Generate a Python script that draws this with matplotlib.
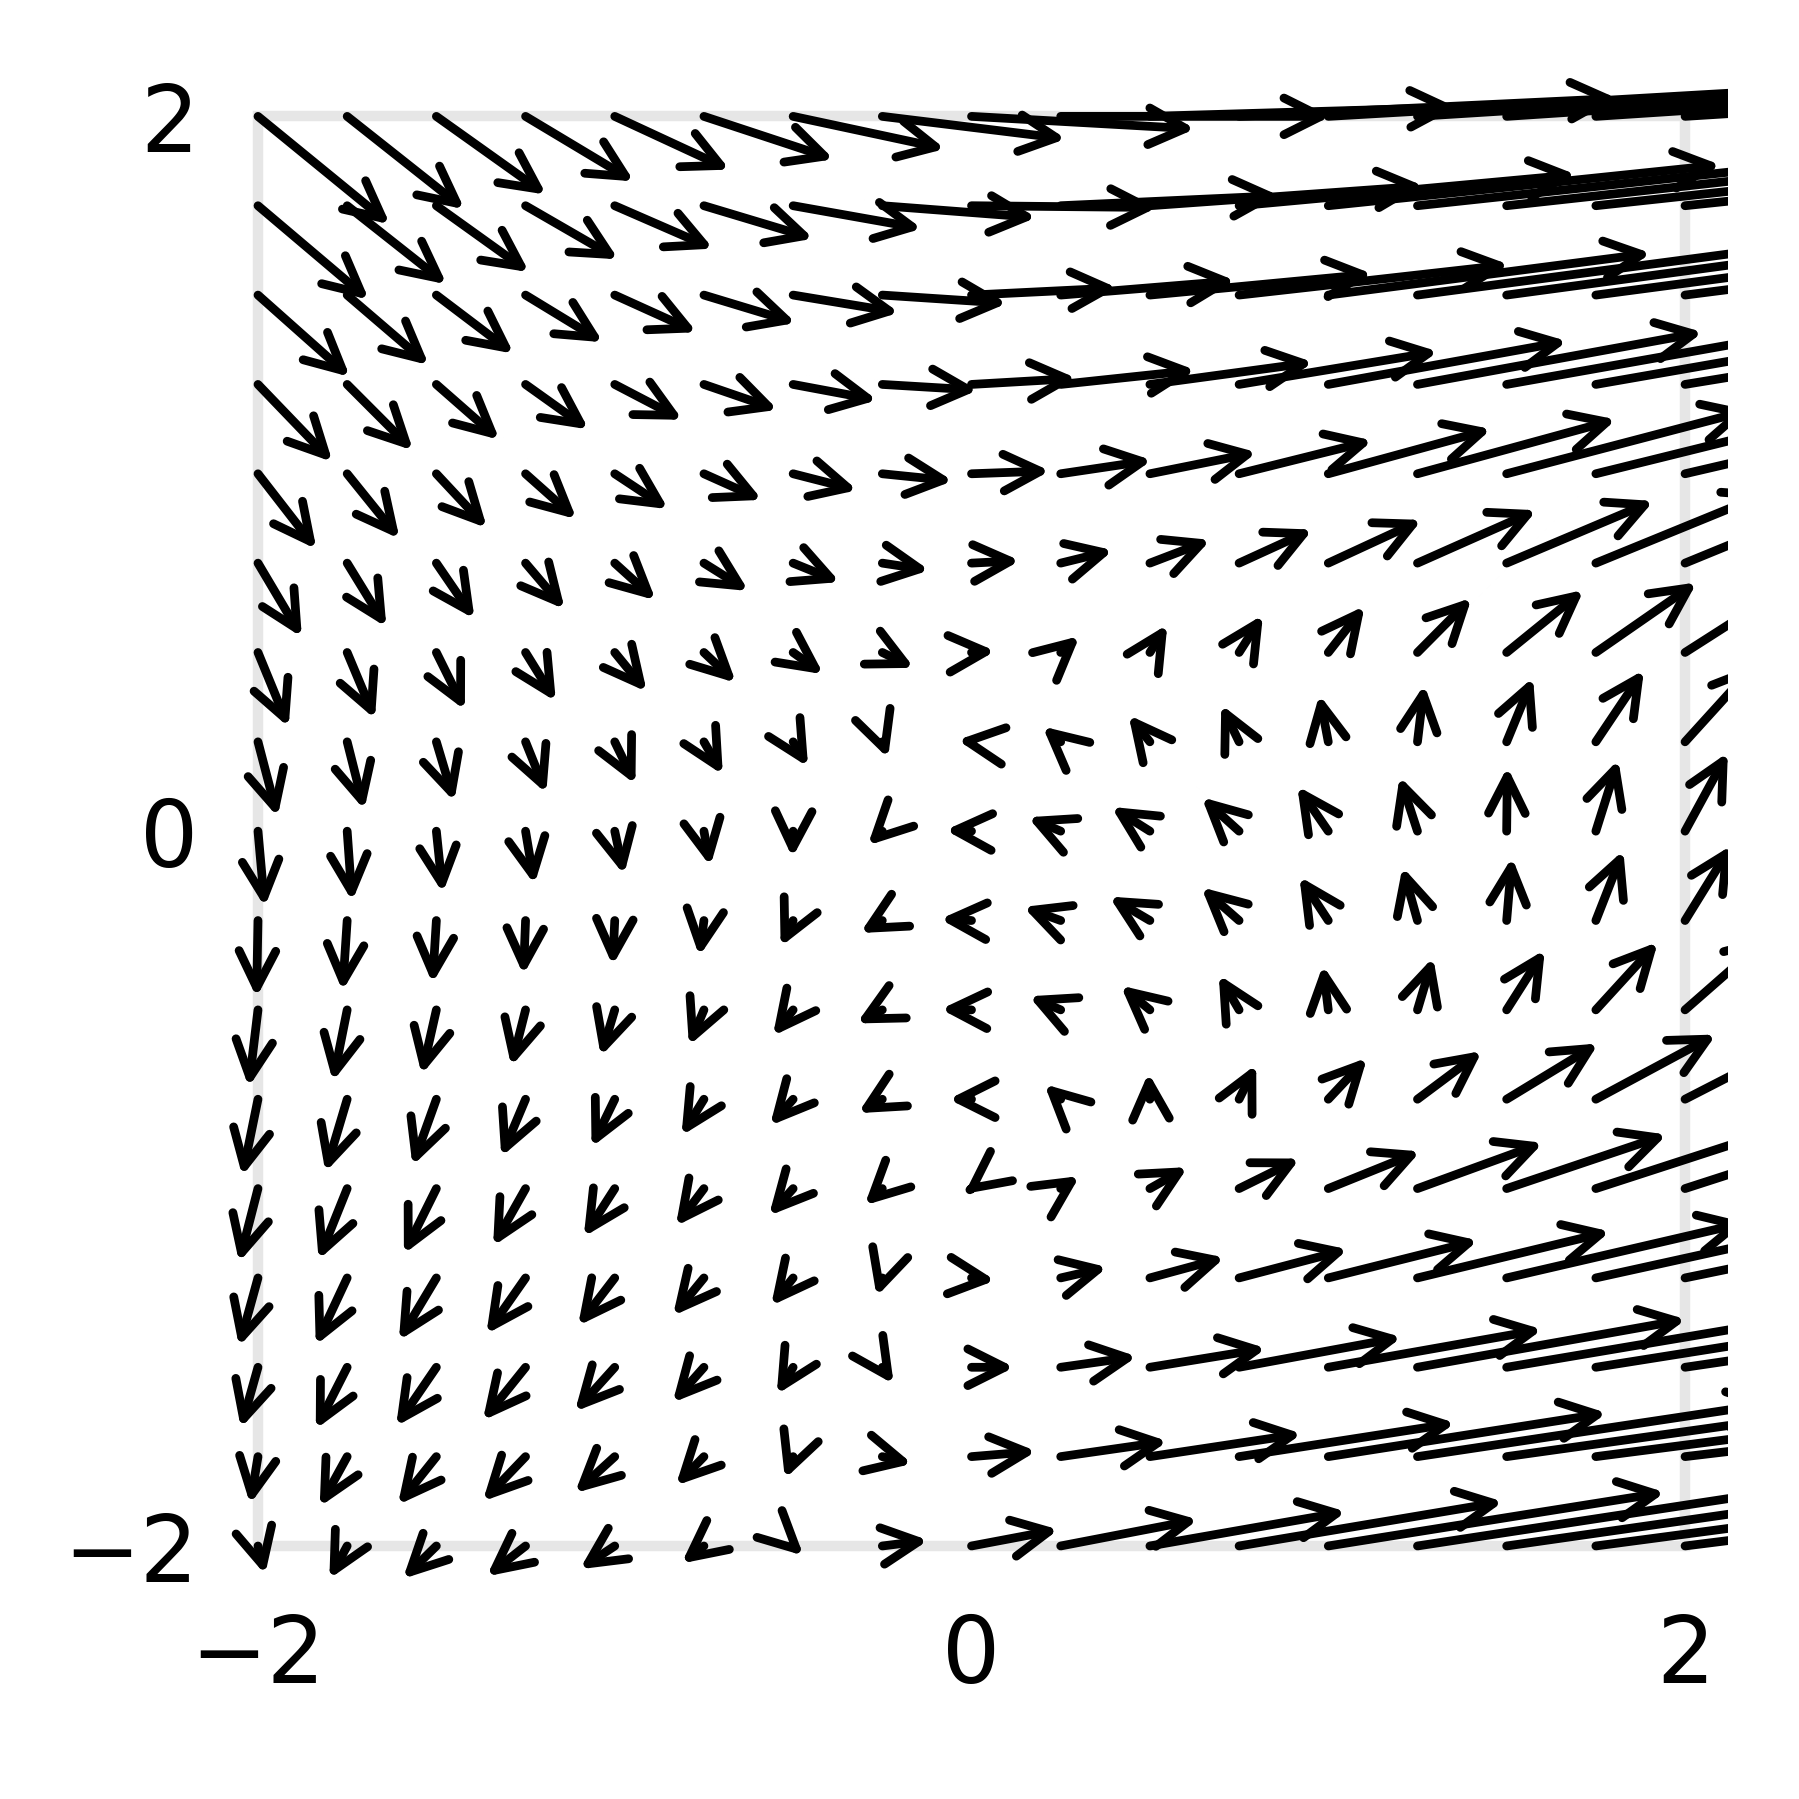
import matplotlib
matplotlib.use("Agg")
import matplotlib.pyplot as plt
from matplotlib.patches import FancyArrowPatch, Rectangle

# grid positions (columns left to right, rows top to bottom)
x_vals = [-2.0, -1.75, -1.5, -1.25, -1.0, -0.75, -0.5, -0.25, 0.0,
          0.25, 0.5, 0.75, 1.0, 1.25, 1.5, 1.75, 2.0]
y_vals = [2.0, 1.75, 1.5, 1.25, 1.0, 0.75, 0.5, 0.25, 0.0,
          -0.25, -0.5, -0.75, -1.0, -1.25, -1.5, -1.75, -2.0]

# x components, one list per row (y = 2 ... -2)
u_rows = [
    [0.370, 0.329, 0.308, 0.304, 0.322, 0.364, 0.426, 0.515, 0.627, 0.756, 0.860, 1.060, 1.300, 1.600, 1.900, 2.300, 2.800],
    [0.311, 0.279, 0.260, 0.260, 0.276, 0.307, 0.361, 0.432, 0.520, 0.613, 0.768, 0.945, 1.100, 1.300, 1.550, 1.850, 2.200],
    [0.258, 0.229, 0.217, 0.217, 0.230, 0.258, 0.297, 0.350, 0.409, 0.490, 0.624, 0.757, 0.905, 1.100, 1.300, 1.550, 1.850],
    [0.209, 0.185, 0.177, 0.177, 0.190, 0.207, 0.236, 0.268, 0.295, 0.378, 0.458, 0.558, 0.670, 0.800, 0.960, 1.150, 1.380],
    [0.164, 0.147, 0.142, 0.143, 0.150, 0.163, 0.180, 0.198, 0.220, 0.256, 0.300, 0.374, 0.457, 0.557, 0.680, 0.830, 1.000],
    [0.123, 0.110, 0.107, 0.110, 0.115, 0.125, 0.131, 0.132, 0.136, 0.147, 0.170, 0.206, 0.262, 0.334, 0.412, 0.490, 0.550],
    [0.086, 0.078, 0.080, 0.085, 0.090, 0.090, 0.085, 0.089, 0.067, 0.053, 0.049, 0.067, 0.102, 0.152, 0.216, 0.283, 0.340],
    [0.055, 0.048, 0.050, 0.058, 0.058, 0.053, 0.042, 0.016, -0.039, -0.051, -0.060, -0.050, -0.025, 0.019, 0.074, 0.135, 0.200],
    [0.019, 0.014, 0.018, 0.025, 0.026, 0.018, -0.002, -0.041, -0.073, -0.092, -0.108, -0.105, -0.087, -0.050, 0.002, 0.063, 0.120],
    [-0.004, -0.013, -0.011, -0.006, -0.006, -0.013, -0.035, -0.062, -0.088, -0.105, -0.114, -0.106, -0.081, -0.042, 0.015, 0.077, 0.130],
    [-0.026, -0.040, -0.041, -0.040, -0.039, -0.042, -0.057, -0.072, -0.086, -0.089, -0.082, -0.057, -0.015, 0.044, 0.107, 0.174, 0.240],
    [-0.044, -0.061, -0.067, -0.068, -0.065, -0.063, -0.065, -0.068, -0.064, -0.046, -0.004, 0.048, 0.109, 0.181, 0.257, 0.337, 0.400],
    [-0.053, -0.080, -0.091, -0.091, -0.087, -0.079, -0.068, -0.050, -0.020, 0.053, 0.106, 0.170, 0.258, 0.352, 0.449, 0.540, 0.620],
    [-0.053, -0.088, -0.105, -0.110, -0.103, -0.087, -0.062, -0.016, 0.067, 0.131, 0.210, 0.305, 0.420, 0.540, 0.670, 0.820, 1.000],
    [-0.048, -0.088, -0.113, -0.120, -0.112, -0.088, -0.046, 0.032, 0.120, 0.214, 0.326, 0.456, 0.600, 0.753, 0.950, 1.200, 1.500],
    [-0.022, -0.077, -0.108, -0.120, -0.112, -0.079, -0.023, 0.084, 0.182, 0.300, 0.426, 0.606, 0.781, 1.000, 1.250, 1.550, 1.900],
    [0.020, -0.050, -0.094, -0.109, -0.098, -0.063, 0.029, 0.129, 0.244, 0.385, 0.550, 0.740, 0.944, 1.150, 1.400, 1.700, 2.000],
]

# y components, same layout
v_rows = [
    [-0.302, -0.260, -0.219, -0.182, -0.149, -0.120, -0.091, -0.063, -0.035, 0.000, 0.025, 0.050, 0.075, 0.100, 0.125, 0.150, 0.175],
    [-0.263, -0.220, -0.186, -0.150, -0.120, -0.092, -0.064, -0.033, -0.005, 0.028, 0.055, 0.087, 0.114, 0.140, 0.170, 0.200, 0.230],
    [-0.229, -0.196, -0.164, -0.132, -0.104, -0.078, -0.049, -0.023, 0.020, 0.040, 0.059, 0.085, 0.117, 0.145, 0.175, 0.205, 0.235],
    [-0.217, -0.185, -0.155, -0.126, -0.099, -0.071, -0.044, -0.016, 0.017, 0.040, 0.062, 0.092, 0.121, 0.146, 0.170, 0.200, 0.225],
    [-0.211, -0.182, -0.152, -0.127, -0.099, -0.073, -0.046, -0.020, 0.008, 0.038, 0.060, 0.093, 0.125, 0.152, 0.178, 0.205, 0.232],
    [-0.207, -0.179, -0.156, -0.129, -0.104, -0.078, -0.053, -0.020, 0.007, 0.036, 0.065, 0.094, 0.121, 0.148, 0.174, 0.200, 0.225],
    [-0.209, -0.186, -0.161, -0.137, -0.110, -0.085, -0.061, -0.043, 0.004, 0.046, 0.078, 0.105, 0.130, 0.153, 0.175, 0.196, 0.217],
    [-0.210, -0.190, -0.167, -0.144, -0.119, -0.092, -0.070, -0.046, 0.005, 0.043, 0.075, 0.104, 0.132, 0.160, 0.180, 0.201, 0.220],
    [-0.212, -0.196, -0.173, -0.149, -0.122, -0.098, -0.074, -0.040, 0.003, 0.039, 0.068, 0.095, 0.126, 0.153, 0.180, 0.200, 0.220],
    [-0.215, -0.197, -0.176, -0.152, -0.126, -0.100, -0.073, -0.035, 0.004, 0.038, 0.067, 0.093, 0.123, 0.150, 0.177, 0.196, 0.210],
    [-0.216, -0.200, -0.181, -0.158, -0.130, -0.100, -0.073, -0.038, 0.002, 0.038, 0.068, 0.098, 0.125, 0.147, 0.168, 0.190, 0.210],
    [-0.215, -0.204, -0.186, -0.161, -0.134, -0.102, -0.074, -0.039, 0.000, 0.042, 0.074, 0.097, 0.116, 0.135, 0.156, 0.181, 0.205],
    [-0.206, -0.199, -0.183, -0.161, -0.135, -0.105, -0.076, -0.047, -0.015, 0.035, 0.060, 0.084, 0.104, 0.128, 0.151, 0.175, 0.200],
    [-0.192, -0.188, -0.175, -0.157, -0.134, -0.106, -0.078, -0.052, -0.007, 0.030, 0.057, 0.080, 0.105, 0.130, 0.155, 0.180, 0.205],
    [-0.170, -0.173, -0.165, -0.149, -0.124, -0.099, -0.076, -0.047, 0.000, 0.030, 0.053, 0.084, 0.106, 0.134, 0.160, 0.190, 0.220],
    [-0.133, -0.140, -0.135, -0.125, -0.102, -0.081, -0.062, -0.020, 0.015, 0.043, 0.064, 0.094, 0.122, 0.150, 0.175, 0.200, 0.225],
    [-0.080, -0.092, -0.092, -0.085, -0.065, -0.049, -0.027, 0.016, 0.046, 0.074, 0.096, 0.124, 0.150, 0.175, 0.200, 0.225, 0.250],
]

plt.rcParams["font.size"] = 22

fig = plt.figure(figsize=(5.997, 5.997), dpi=300)
ax = fig.add_axes([0.1196, 0.1168, 0.8408, 0.8423])

# light frame around the sampled square
ax.add_patch(Rectangle((-2, -2), 4, 4, fill=False, edgecolor="0.9",
                       lw=2.5, zorder=0.5))

for y, urow, vrow in zip(y_vals, u_rows, v_rows):
    for x, u, v in zip(x_vals, urow, vrow):
        ax.add_patch(FancyArrowPatch((x, y), (x + u, y + v),
                                     arrowstyle="->", mutation_scale=22,
                                     lw=2.1, color="black",
                                     shrinkA=0, shrinkB=0))

ax.set_xlim(-2.12, 2.12)
ax.set_ylim(-2.12, 2.12)
ax.set_xticks([-2, 0, 2])
ax.set_yticks([-2, 0, 2])
for spine in ax.spines.values():
    spine.set_visible(False)
ax.tick_params(axis="x", length=0, pad=5.5)
ax.tick_params(axis="y", length=0, pad=4)

fig.savefig("out.png", dpi=300)
